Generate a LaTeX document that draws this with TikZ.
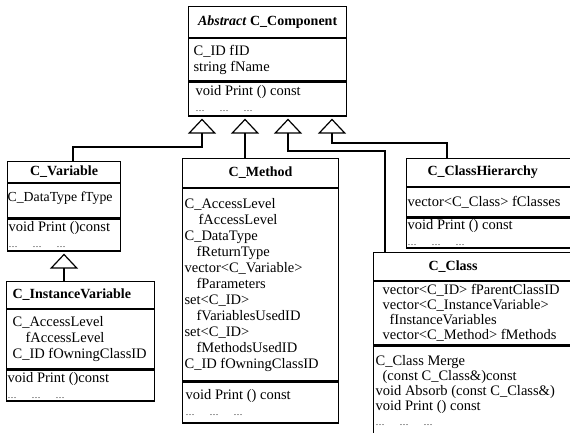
\documentclass[tikz,border=0pt]{standalone}
\usepackage{fontspec}
\setmainfont{Liberation Serif}
\usetikzlibrary{arrows.meta,positioning}

\newcommand{\dotrow}{{\fontsize{9}{16}\selectfont\dots\hspace{15pt}\dots\hspace{15pt}\dots}}

\begin{document}
\begin{tikzpicture}[x=1pt, y=-1pt, line width=1.2pt,
  every node/.style={font=\fontsize{14.5}{16}\selectfont},
  box/.style={draw, anchor=north west, inner sep=0pt},
  hdr/.style={box, font=\fontsize{14}{16}\selectfont\bfseries},
  txt/.style={inner sep=0pt, align=left},
  inh/.style={-{Triangle[open, width=28pt, length=15pt]}, shorten >=2pt}]
  \useasboundingbox (0,0) rectangle (570,432);
  \clip (0,0) rectangle (570,432);
  % C_Component
  \node[hdr, minimum width=158, minimum height=31] (compH) at (188,6) {\textit{Abstract} C\_Component};
  \node[box, minimum width=158, minimum height=42] (compA) at (compH.south west) {};
  \node[box, minimum width=158, minimum height=34] (compM) at (compA.south west) {};
  \node[txt, right=5pt of compA.west] (compAt) {C\_ID fID\\string fName};
  \node[txt, right=7pt of compM.west] (compMt) {void Print () const\\\dotrow};
  % C_Variable
  \node[hdr, minimum width=113, minimum height=21] (varH) at (7,161) {C\_Variable};
  \node[box, minimum width=113, minimum height=34] (varA) at (varH.south west) {};
  \node[box, minimum width=113, minimum height=32] (varM) at (varA.south west) {};
  \node[txt, right=0pt of varA.west, yshift=3pt, font=\fontsize{13.8}{16}\selectfont] (varAt) {C\_DataType fType};
  \node[txt, right=1pt of varM.west] (varMt) {void Print ()const\\\dotrow};
  % C_InstanceVariable
  \node[box, minimum width=148, minimum height=27] (ivarH) at (6,281) {};
  \node[box, minimum width=148, minimum height=59] (ivarA) at (ivarH.south west) {};
  \node[box, minimum width=148, minimum height=31] (ivarM) at (ivarA.south west) {};
  \node[txt, right=6pt of ivarH.west, font=\fontsize{14}{16}\selectfont\bfseries] (ivarHt) {C\_InstanceVariable};
  \node[txt, right=6pt of ivarA.west] (ivarAt) {C\_AccessLevel\\\hspace*{13pt}fAccessLevel\\C\_ID fOwningClassID};
  \node[txt, right=1pt of ivarM.west] (ivarMt) {void Print ()const\\\dotrow};
  % C_Method
  \node[hdr, minimum width=156, minimum height=29] (methH) at (182,158) {C\_Method};
  \node[box, minimum width=156, minimum height=192] (methA) at (methH.south west) {};
  \node[box, minimum width=156, minimum height=41] (methM) at (methA.south west) {};
  \node[txt, right=2pt of methA.west] (methAt) {C\_AccessLevel\\\hspace*{14pt}fAccessLevel\\C\_DataType\\\hspace*{12pt}fReturnType\\vector<C\_Variable>\\\hspace*{12pt}fParameters\\set<C\_ID>\\\hspace*{12pt}fVariablesUsedID\\set<C\_ID>\\\hspace*{12pt}fMethodsUsedID\\C\_ID fOwningClassID};
  \node[txt, right=3pt of methM.west] (methMt) {void Print () const\\\dotrow};
  % C_ClassHierarchy
  \node[box, minimum width=180, minimum height=28] (hierH) at (406,158) {};
  \node[box, minimum width=180, minimum height=29] (hierA) at (hierH.south west) {};
  \node[box, minimum width=180, minimum height=30] (hierM) at (hierA.south west) {};
  \node[txt, right=21pt of hierH.west, font=\fontsize{14}{16}\selectfont\bfseries] (hierHt) {C\_ClassHierarchy};
  \node[txt, right=1pt of hierA.west] (hierAt) {vector<C\_Class> fClasses};
  \node[txt, right=1pt of hierM.west] (hierMt) {void Print () const\\\dotrow};
  % C_Class
  \node[box, minimum width=210, minimum height=28] (clsH) at (373,252) {};
  \node[box, minimum width=210, minimum height=63] (clsA) at (clsH.south west) {};
  \node[box, minimum width=210, minimum height=107] (clsM) at (clsA.south west) {};
  \node[txt, right=55pt of clsH.west, font=\fontsize{14}{16}\selectfont\bfseries] (clsHt) {C\_Class};
  \node[txt, right=9pt of clsA.west, font=\fontsize{14.5}{15}\selectfont] (clsAt) {vector<C\_ID> fParentClassID\\vector<C\_InstanceVariable>\\\hspace*{7pt}fInstanceVariables\\vector<C\_Method> fMethods};
  \node[txt, below right=9pt and 2pt of clsM.north west, font=\fontsize{14.5}{15}\selectfont] (clsMt) {C\_Class Merge\\\hspace*{7pt}(const C\_Class\&)const\\void Absorb (const C\_Class\&)\\void Print () const\\\dotrow};
  % Inheritance
  \draw[inh] ([xshift=66pt]varH.north west) -- ++(0,-14) -| ([xshift=14pt]compM.south west);
  \draw[inh] ([xshift=63pt]methH.north west) -- ([xshift=57pt]compM.south west);
  \draw[inh] ([xshift=12pt]clsH.north west) -- ++(0,-101) -| ([xshift=100pt]compM.south west);
  \draw[inh] ([xshift=41pt]hierH.north west) -- ++(0,-15) -| ([xshift=144pt]compM.south west);
  \draw[inh] ([xshift=58pt]ivarH.north west) -- ([xshift=57pt]varM.south west);
\end{tikzpicture}
\end{document}
